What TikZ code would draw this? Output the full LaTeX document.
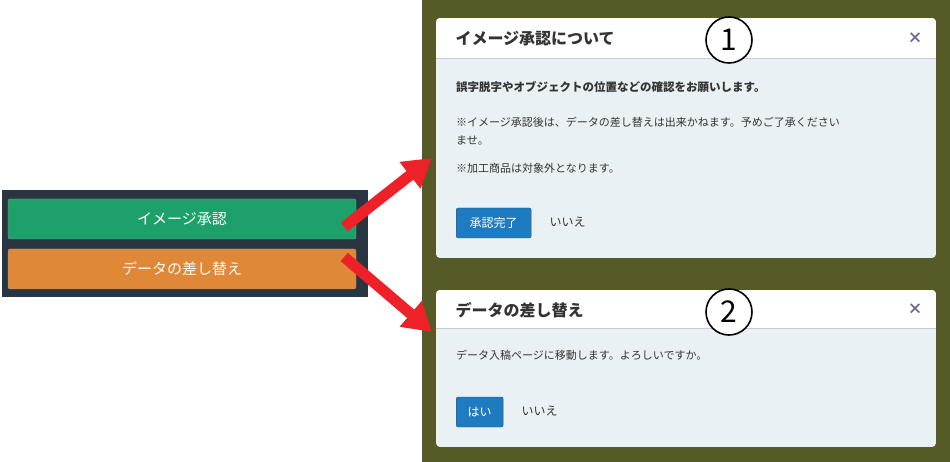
\documentclass[tikz,border=0pt]{standalone}
\usepackage{fontspec}
\setmainfont{Noto Sans CJK JP}
\usetikzlibrary{positioning,arrows.meta}
\definecolor{panel}{HTML}{293541}
\definecolor{okgreen}{HTML}{1DA06A}
\definecolor{okorange}{HTML}{DE8838}
\definecolor{olive}{HTML}{565A27}
\definecolor{dlgbody}{HTML}{EAF1F5}
\definecolor{okblue}{HTML}{1F7BC0}
\definecolor{arrred}{HTML}{EE2028}
\definecolor{txt}{HTML}{333333}
\tikzset{
  bigbtn/.style = {rectangle, rounded corners=2pt, minimum width=348pt, minimum height=40pt, text=white, font=\fontsize{15}{15}\selectfont, draw=black!40, line width=0.4pt},
  dlg/.style = {rectangle, rounded corners=4pt, fill=dlgbody, anchor=north west},
  dlgtitle/.style = {anchor=west, font=\bfseries\fontsize{16}{16}\selectfont, text=txt},
  dlgtext/.style = {anchor=west, font=\fontsize{11}{11}\selectfont, text=txt, inner sep=0pt},
  smallbtn/.style = {rectangle, rounded corners=2pt, fill=okblue, draw=okblue!70!black, text=white, font=\fontsize{12}{12}\selectfont, minimum height=30pt, anchor=west},
  nobtn/.style = {anchor=west, font=\fontsize{12}{12}\selectfont, text=txt},
  closex/.style = {font=\bfseries\fontsize{15}{15}\selectfont, text=gray!80!blue},
  num/.style = {circle, draw=black, line width=1.6pt, minimum size=46pt, fill=white, font=\fontsize{30}{30}\selectfont, inner sep=0pt},
  redarrow/.style = {draw=arrred, line width=11pt, -{Triangle[width=32pt,length=28pt]}}
}
\begin{document}
\begin{tikzpicture}[x=1pt,y=-1pt]
\useasboundingbox (0,0) rectangle (950,462);
\fill[white] (0,0) rectangle (950,462);
\fill[olive] (422,0) rectangle (950,462);

% left panel with buttons
\fill[panel] (2,190) rectangle (368,297);
\node (approve) [bigbtn, fill=okgreen] at (182,219) {イメージ承認};
\node (replace) [bigbtn, fill=okorange] at (182,269) {データの差し替え};

% dialog 1
\begin{scope}
\clip[rounded corners=4pt] (436,18) rectangle (936,258);
\fill[dlgbody] (436,18) rectangle (936,258);
\fill[white] (436,18) rectangle (936,58);
\draw[gray!40] (436,58) -- (936,58);
\end{scope}
\node (titleA) [dlgtitle] at (452,39) {イメージ承認について};
\node (closeA) [closex] at (915,38) {×};
\node (numA) [num] at (729,40) {1};
\node (lineA1) [dlgtext, font=\bfseries\fontsize{11.5}{11.5}\selectfont] at (456,87) {誤字脱字やオブジェクトの位置などの確認をお願いします。};
\node (lineA2) [dlgtext] at (456,122) {※イメージ承認後は、データの差し替えは出来かねます。予めご了承ください};
\node (lineA3) [dlgtext] at (456,140) {ませ。};
\node (lineA4) [dlgtext] at (456,168) {※加工商品は対象外となります。};
\node (okA) [smallbtn, minimum width=75pt] at (456,223) {承認完了};
\node (noA) [nobtn] at (546,222) {いいえ};

% dialog 2
\begin{scope}
\clip[rounded corners=4pt] (436,290) rectangle (936,447);
\fill[dlgbody] (436,290) rectangle (936,447);
\fill[white] (436,290) rectangle (936,328);
\draw[gray!40] (436,328) -- (936,328);
\end{scope}
\node (titleB) [dlgtitle] at (452,310) {データの差し替え};
\node (closeB) [closex] at (915,309) {×};
\node (numB) [num] at (729,312) {2};
\node (lineB1) [dlgtext] at (456,355) {データ入稿ページに移動します。よろしいですか。};
\node (okB) [smallbtn, minimum width=47pt] at (456,412) {はい};
\node (noB) [nobtn] at (518,411) {いいえ};

% arrows
\coordinate (tipA) at (432,158);
\coordinate (tipB) at (432,332);
\draw[redarrow] ([xshift=-12pt,yshift=-8pt]approve.east) -- (tipA);
\draw[redarrow] ([xshift=-12pt,yshift=12pt]replace.east) -- (tipB);
\end{tikzpicture}
\end{document}
